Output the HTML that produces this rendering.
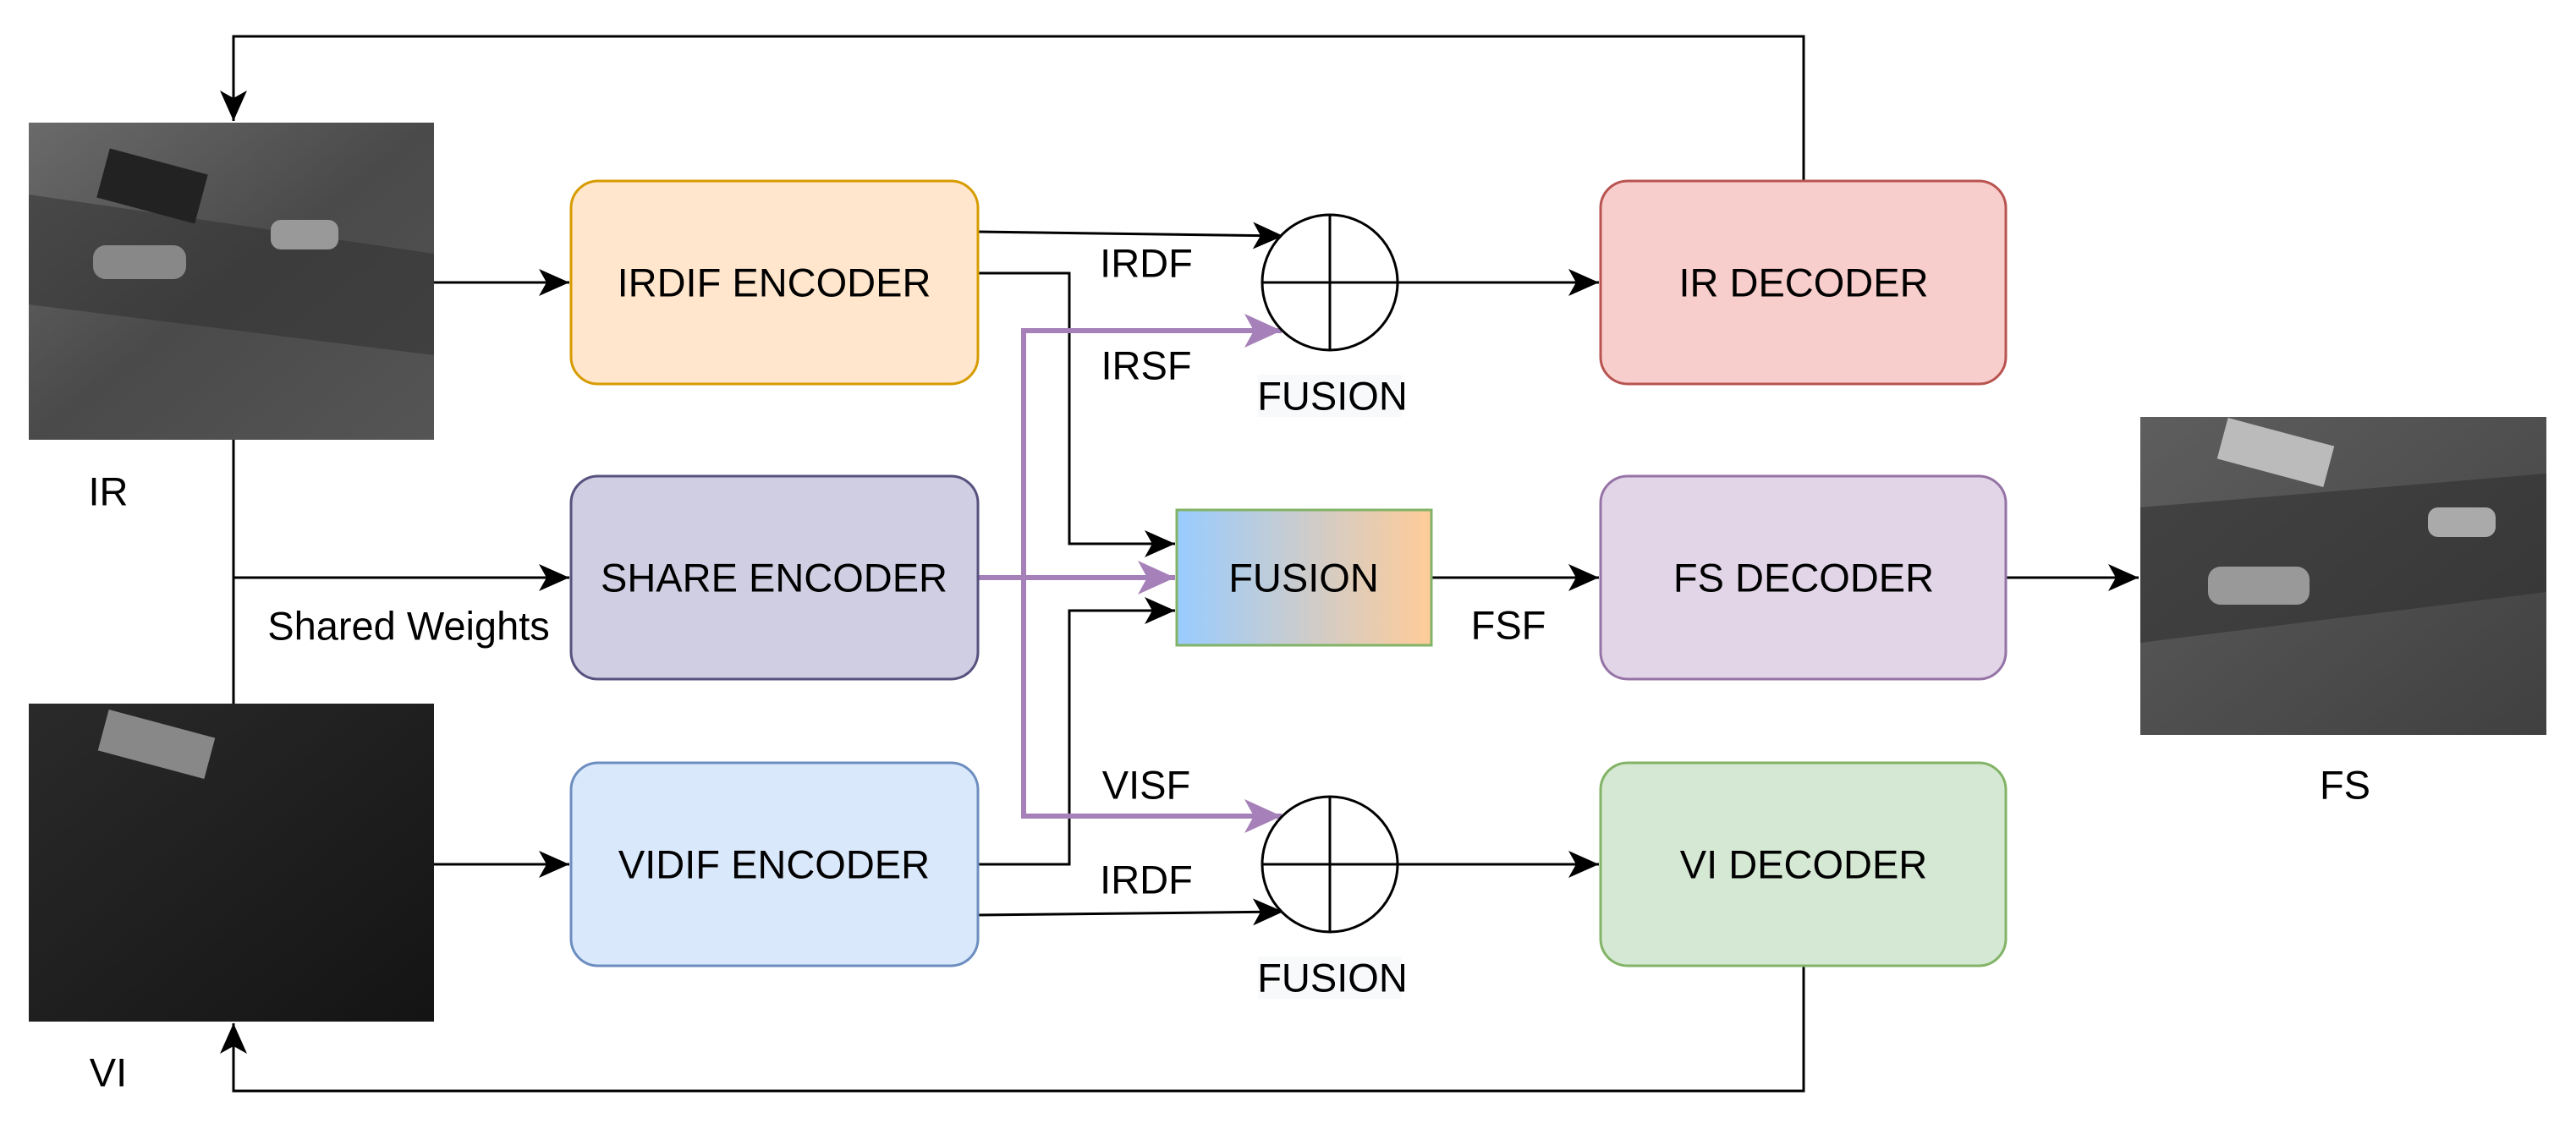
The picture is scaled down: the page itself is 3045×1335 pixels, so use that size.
<!DOCTYPE html>
<html><head><meta charset="utf-8"><style>
html,body{margin:0;padding:0;background:#fff;}
svg{display:block;}
text{font-family:"Liberation Sans",sans-serif;font-size:47px;fill:#000;}
</style></head><body>
<svg width="3045" height="1335" viewBox="0 0 3045 1335" xmlns="http://www.w3.org/2000/svg">
<defs>
<marker id="a" markerUnits="userSpaceOnUse" markerWidth="40" markerHeight="40" viewBox="0 0 40 40" refX="38" refY="20" orient="auto"><path d="M2 4 L38 20 L2 36 L11 20 Z" fill="#000"/></marker>
<marker id="p" markerUnits="userSpaceOnUse" markerWidth="48" markerHeight="48" viewBox="0 0 48 48" refX="46" refY="24" orient="auto"><path d="M2 4 L46 24 L2 44 L13 24 Z" fill="#A680B8"/></marker>
<linearGradient id="g" x1="0" x2="1" y1="0" y2="0"><stop offset="0" stop-color="#99CCFF"/><stop offset="1" stop-color="#FFCC99"/></linearGradient>
<linearGradient id="ir" x1="0" y1="0" x2="1" y2="1"><stop offset="0" stop-color="#6a6a6a"/><stop offset="0.5" stop-color="#4a4a4a"/><stop offset="1" stop-color="#555"/></linearGradient>
<linearGradient id="vi" x1="0" y1="0" x2="1" y2="1"><stop offset="0" stop-color="#2a2a2a"/><stop offset="1" stop-color="#141414"/></linearGradient>
<linearGradient id="fs" x1="0" y1="0" x2="1" y2="1"><stop offset="0" stop-color="#5e5e5e"/><stop offset="1" stop-color="#404040"/></linearGradient>
</defs>
<g fill="none" stroke="#000" stroke-width="3">
<path d="M2132 214 V43 H276 V143" marker-end="url(#a)"/>
<path d="M2132 1142 V1290 H276 V1210" marker-end="url(#a)"/>
<path d="M276 520 V832"/>
<path d="M513 334 H673" marker-end="url(#a)"/>
<path d="M276 683 H673" marker-end="url(#a)"/>
<path d="M513 1022 H673" marker-end="url(#a)"/>
<path d="M1156 274 L1517 279" marker-end="url(#a)"/>
<path d="M1156 323 H1264 V643 H1389" marker-end="url(#a)"/>
<path d="M1156 1022 H1264 V722 H1389" marker-end="url(#a)"/>
<path d="M1156 1082 L1517 1078" marker-end="url(#a)"/>
<path d="M1652 334 H1890" marker-end="url(#a)"/>
<path d="M1652 1022 H1890" marker-end="url(#a)"/>
<path d="M1692 683 H1890" marker-end="url(#a)"/>
<path d="M2371 683 H2528" marker-end="url(#a)"/>
</g>
<g fill="none" stroke="#A680B8" stroke-width="6">
<path d="M1156 683 H1389" marker-end="url(#p)"/>
<path d="M1210 683 V391 H1515" marker-end="url(#p)"/>
<path d="M1210 683 V965 H1515" marker-end="url(#p)"/>
</g>
<!-- images -->
<rect x="34" y="145" width="479" height="375" fill="url(#ir)"/>
<polygon points="34,230 513,300 513,420 34,360" fill="#2e2e2e" opacity="0.5"/>
<rect x="120" y="190" width="120" height="60" fill="#222" transform="rotate(15 180 220)"/>
<rect x="110" y="290" width="110" height="40" rx="15" fill="#888"/>
<rect x="320" y="260" width="80" height="35" rx="12" fill="#999"/>
<rect x="34" y="832" width="479" height="376" fill="url(#vi)"/>
<rect x="120" y="855" width="130" height="50" fill="#888" transform="rotate(15 185 880)"/>
<rect x="2530" y="493" width="480" height="376" fill="url(#fs)"/>
<polygon points="2530,600 3010,560 3010,700 2530,760" fill="#2a2a2a" opacity="0.5"/>
<rect x="2625" y="510" width="130" height="50" fill="#bbb" transform="rotate(15 2690 535)"/>
<rect x="2610" y="670" width="120" height="45" rx="15" fill="#999"/>
<rect x="2870" y="600" width="80" height="35" rx="12" fill="#aaa"/>
<!-- boxes -->
<rect x="675" y="214" width="481" height="240" rx="32" fill="#ffe6cc" stroke="#d79b00" stroke-width="3"/>
<rect x="675" y="563" width="481" height="240" rx="32" fill="#d0cee2" stroke="#56517e" stroke-width="3"/>
<rect x="675" y="902" width="481" height="240" rx="32" fill="#dae8fc" stroke="#6c8ebf" stroke-width="3"/>
<rect x="1892" y="214" width="479" height="240" rx="32" fill="#f8cecc" stroke="#b85450" stroke-width="3"/>
<rect x="1892" y="563" width="479" height="240" rx="32" fill="#e1d5e7" stroke="#9673a6" stroke-width="3"/>
<rect x="1892" y="902" width="479" height="240" rx="32" fill="#d5e8d4" stroke="#82b366" stroke-width="3"/>
<rect x="1391" y="603" width="301" height="160" fill="url(#g)" stroke="#82b366" stroke-width="3"/>
<g fill="#fff" stroke="#000" stroke-width="3">
<circle cx="1572" cy="334" r="80"/><path d="M1492 334 H1652 M1572 254 V414"/>
<circle cx="1572" cy="1022" r="80"/><path d="M1492 1022 H1652 M1572 942 V1102"/>
</g>
<rect x="1487" y="443" width="170" height="50" fill="#f8f9fa"/>
<rect x="1487" y="1131" width="170" height="50" fill="#f8f9fa"/>
<g text-anchor="middle" dominant-baseline="central">
<text x="915" y="334">IRDIF ENCODER</text>
<text x="915" y="683">SHARE ENCODER</text>
<text x="915" y="1022">VIDIF ENCODER</text>
<text x="2132" y="334">IR DECODER</text>
<text x="2132" y="683">FS DECODER</text>
<text x="2132" y="1022">VI DECODER</text>
<text x="1541" y="683">FUSION</text>
<text x="1575" y="468">FUSION</text>
<text x="1575" y="1156">FUSION</text>
<text x="1355" y="311">IRDF</text>
<text x="1355" y="432">IRSF</text>
<text x="1355" y="928">VISF</text>
<text x="1355" y="1040">IRDF</text>
<text x="1783" y="739">FSF</text>
<text x="128" y="581">IR</text>
<text x="128" y="1268">VI</text>
<text x="2772" y="928">FS</text>
<text x="483" y="740">Shared Weights</text>
</g>
</svg>
</body></html>
